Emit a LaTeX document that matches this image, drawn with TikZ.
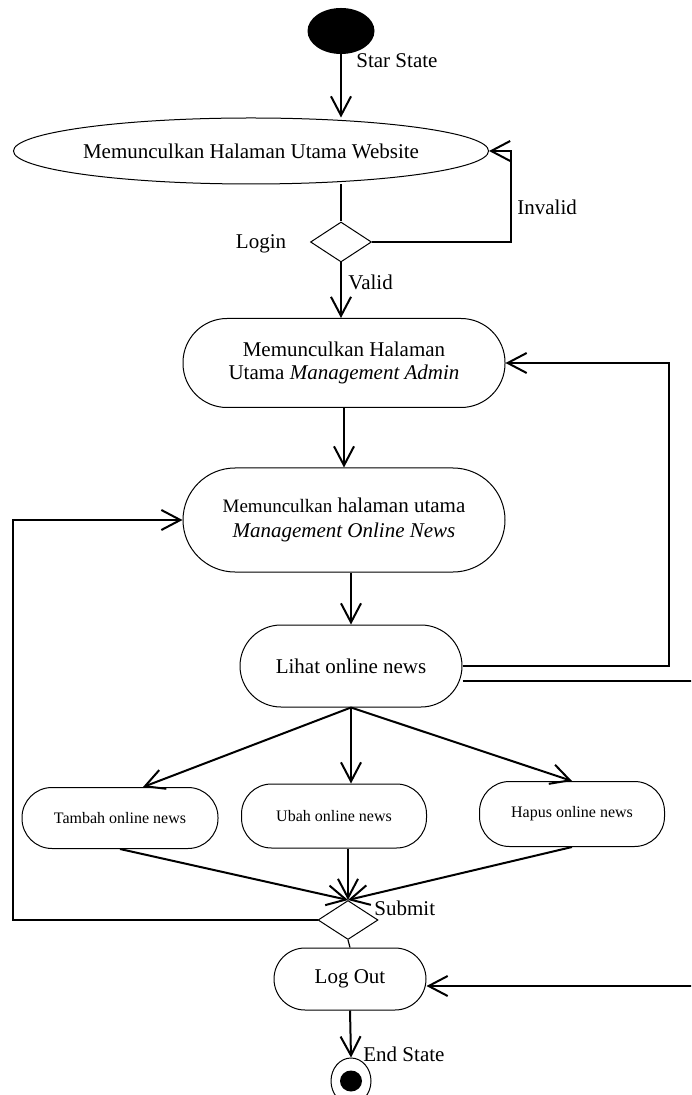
\documentclass[tikz,border=0pt]{standalone}
\usepackage{fontspec}
\setmainfont{Liberation Serif}
\usetikzlibrary{shapes.geometric,arrows.meta}

\begin{document}
\begin{tikzpicture}[x=0.5pt,y=-0.5pt,
  act/.style={draw,line width=0.5pt,rounded corners=22pt,align=center,inner sep=0pt,font=\fontsize{10.5}{11.5}\selectfont},
  small/.style={act,rounded corners=15pt,font=\fontsize{8}{9.5}\selectfont},
  choice/.style={draw,diamond,line width=0.5pt,inner sep=0pt},
  flow/.style={line width=1pt,-{Straight Barb[length=9.5pt,width=10pt]}},
  link/.style={line width=0.6pt},
  txt/.style={anchor=west,inner sep=0pt,font=\fontsize{10.5}{12}\selectfont}]
\path[use as bounding box,clip] (0,0) rectangle (691,1095);

\node[ellipse,fill,minimum width=33.5pt,minimum height=23pt,inner sep=0pt] (start) at (341,31) {};
\node[txt] (lstart) at (356,61) {Star State};
\node[ellipse,draw,line width=0.5pt,minimum width=229pt,minimum height=33pt,inner sep=0pt,font=\fontsize{10.5}{12}\selectfont] (web) at (251,151) {Memunculkan Halaman Utama Website};
\node[choice,minimum width=30.5pt,minimum height=20pt] (login) at (341,242) {};
\node[txt,anchor=center] (llogin) at (261,244) {Login};
\node[txt] (linvalid) at (517,207) {Invalid};
\node[txt] (lvalid) at (348,282) {Valid};
\node[act,minimum width=161pt,minimum height=44.5pt] (admin) at (344,363) {Memunculkan Halaman\\Utama \textit{Management Admin}};
\node[act,minimum width=161pt,minimum height=52pt,rounded corners=26pt,font=\fontsize{10.5}{12.5}\selectfont] (news) at (344,520) {{\fontsize{9.5}{11}\selectfont Memunculkan} halaman utama\\\textit{Management Online News}};
\node[act,minimum width=111pt,minimum height=41pt,rounded corners=20.5pt] (lihat) at (351,666) {Lihat online news};
\node[small,minimum width=98pt,minimum height=30.5pt] (tambah) at (120,818) {Tambah online news};
\node[small,minimum width=92.5pt,minimum height=32pt] (ubah) at (334,816) {Ubah online news};
\node[small,minimum width=92.5pt,minimum height=32.5pt] (hapus) at (572,814) {Hapus online news};
\node[choice,minimum width=30pt,minimum height=19.5pt] (submit) at (348,920) {};
\node[txt] (lsubmit) at (374,908) {Submit};
\node[act,minimum width=76pt,minimum height=31pt,rounded corners=15.5pt] (logout) at (350,979) {Log Out};
\node[ellipse,draw,line width=0.5pt,minimum width=20pt,minimum height=23pt,inner sep=0pt] (end) at (351,1081) {};
\node[ellipse,fill,minimum width=11pt,minimum height=10.5pt,inner sep=0pt] (endin) at (351,1081) {};
\node[txt] (lend) at (363,1054) {End State};

\coordinate (inv) at (511,200);
\coordinate (rloop) at (669,500);
\coordinate (rout) at (700,830);
\coordinate (lloop) at (13,700);

\draw[flow] (start.south) -- (start.south |- web.north);
\draw[link] (web.south -| login.north) -- (login.north);
\draw[flow] (login.south) -- (login.south |- admin.north);
\draw[flow] (login.east) -| (inv) |- (web.east);
\draw[flow] (admin.south) -- (news.north);
\draw[flow] (lihat.north |- news.south) -- (lihat.north);
\draw[flow] (lihat.east) -| (rloop) |- (admin.east);
\draw[flow] ([yshift=-7.5pt]lihat.east) -| (rout) |- ([yshift=-3.5pt]logout.east);
\draw[flow] (lihat.south) -- ([xshift=11.5pt]tambah.north);
\draw[flow] (lihat.south) -- (lihat.south |- ubah.north);
\draw[flow] (lihat.south) -- (hapus.north);
\draw[flow] (tambah.south) -- (submit.north);
\draw[flow] (ubah.south -| submit.north) -- (submit.north);
\draw[flow] (hapus.south) -- (submit.north);
\draw[flow] (submit.west) -| (lloop) |- (news.west);
\draw[link] (submit.south) -- (logout.north);
\draw[flow] (logout.south) -- (end.north);
\end{tikzpicture}
\end{document}
